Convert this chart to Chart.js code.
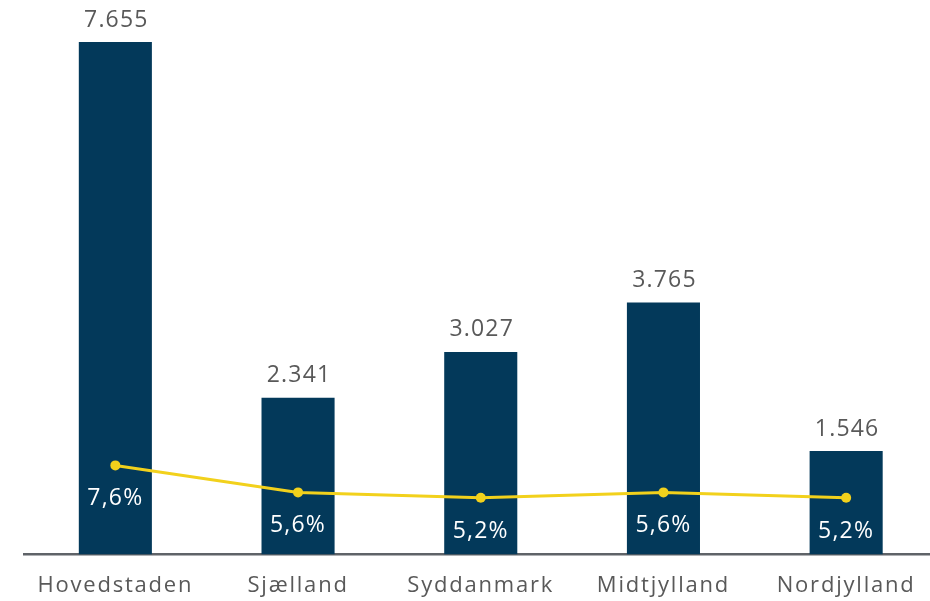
<!DOCTYPE html>
<html>
<head>
<meta charset="utf-8">
<script src="https://cdn.jsdelivr.net/npm/chart.js@4/dist/chart.umd.min.js"></script>
<style>
  html, body { margin: 0; padding: 0; background: #ffffff; overflow: hidden; }
  #wrap { position: relative; width: 945px; height: 601px; }
</style>
</head>
<body>
<div id="wrap"><canvas id="c"></canvas></div>
<script>
const regions = ['Hovedstaden', 'Sjælland', 'Syddanmark', 'Midtjylland', 'Nordjylland'];
const counts = [7655, 2341, 3027, 3765, 1546];
const shares = [7.6, 5.6, 5.2, 5.6, 5.2];

const BAR_COLOR = '#03395A';
const LINE_COLOR = '#F2D11C';
const TEXT_GRAY = '#595959';
const FONT = '"Open Sans", "Segoe UI", sans-serif';

function fmtCount(v) {
  return String(v).replace(/\B(?=(\d{3})+(?!\d))/g, '.');
}
function fmtShare(v) {
  return v.toFixed(1).replace('.', ',') + '%';
}

const spacingPlugin = {
  id: 'spacing',
  beforeDraw(chart) { chart.ctx.letterSpacing = '1.8px'; }
};

const labelPlugin = {
  id: 'labels',
  afterDatasetsDraw(chart) {
    const ctx = chart.ctx;
    ctx.save();
    ctx.letterSpacing = '1.2px';
    ctx.font = '23px ' + FONT;
    ctx.textAlign = 'center';
    ctx.textBaseline = 'alphabetic';
    const barMeta = chart.getDatasetMeta(0);
    barMeta.data.forEach((el, i) => {
      ctx.fillStyle = TEXT_GRAY;
      ctx.fillText(fmtCount(counts[i]), el.x + 1, el.y - 15.5);
    });
    const lineMeta = chart.getDatasetMeta(1);
    lineMeta.data.forEach((el, i) => {
      ctx.fillStyle = '#ffffff';
      ctx.fillText(fmtShare(shares[i]), el.x, el.y + 40);
    });
    ctx.restore();
  }
};

new Chart(document.getElementById('c'), {
  data: {
    labels: regions,
    datasets: [
      {
        type: 'bar',
        data: counts,
        backgroundColor: BAR_COLOR,
        barPercentage: 0.4,
        categoryPercentage: 1.0,
        yAxisID: 'y',
        order: 2
      },
      {
        type: 'line',
        data: shares,
        borderColor: LINE_COLOR,
        backgroundColor: LINE_COLOR,
        borderWidth: 3,
        pointRadius: 5,
        pointBackgroundColor: LINE_COLOR,
        pointBorderColor: LINE_COLOR,
        pointBorderWidth: 0,
        fill: false,
        tension: 0,
        yAxisID: 'y2',
        order: 1
      }
    ]
  },
  options: {
    responsive: true,
    maintainAspectRatio: false,
    animation: false,
    layout: { padding: { left: 24, right: 7.5, top: 19, bottom: 0 } },
    plugins: {
      legend: { display: false },
      tooltip: { enabled: false }
    },
    scales: {
      x: {
        grid: { display: false, drawTicks: false },
        border: { display: true, color: '#5F6368', width: 2.5 },
        ticks: {
          color: TEXT_GRAY,
          font: { family: FONT, size: 22 },
          padding: 18,
          autoSkip: false,
          maxRotation: 0
        },
        afterFit(axis) { axis.height = 46.5; }
      },
      y: {
        display: false,
        min: 0,
        max: 8000
      },
      y2: {
        display: false,
        min: 1.0,
        max: 40.67
      }
    }
  },
  plugins: [spacingPlugin, labelPlugin]
});
</script>
</body>
</html>
